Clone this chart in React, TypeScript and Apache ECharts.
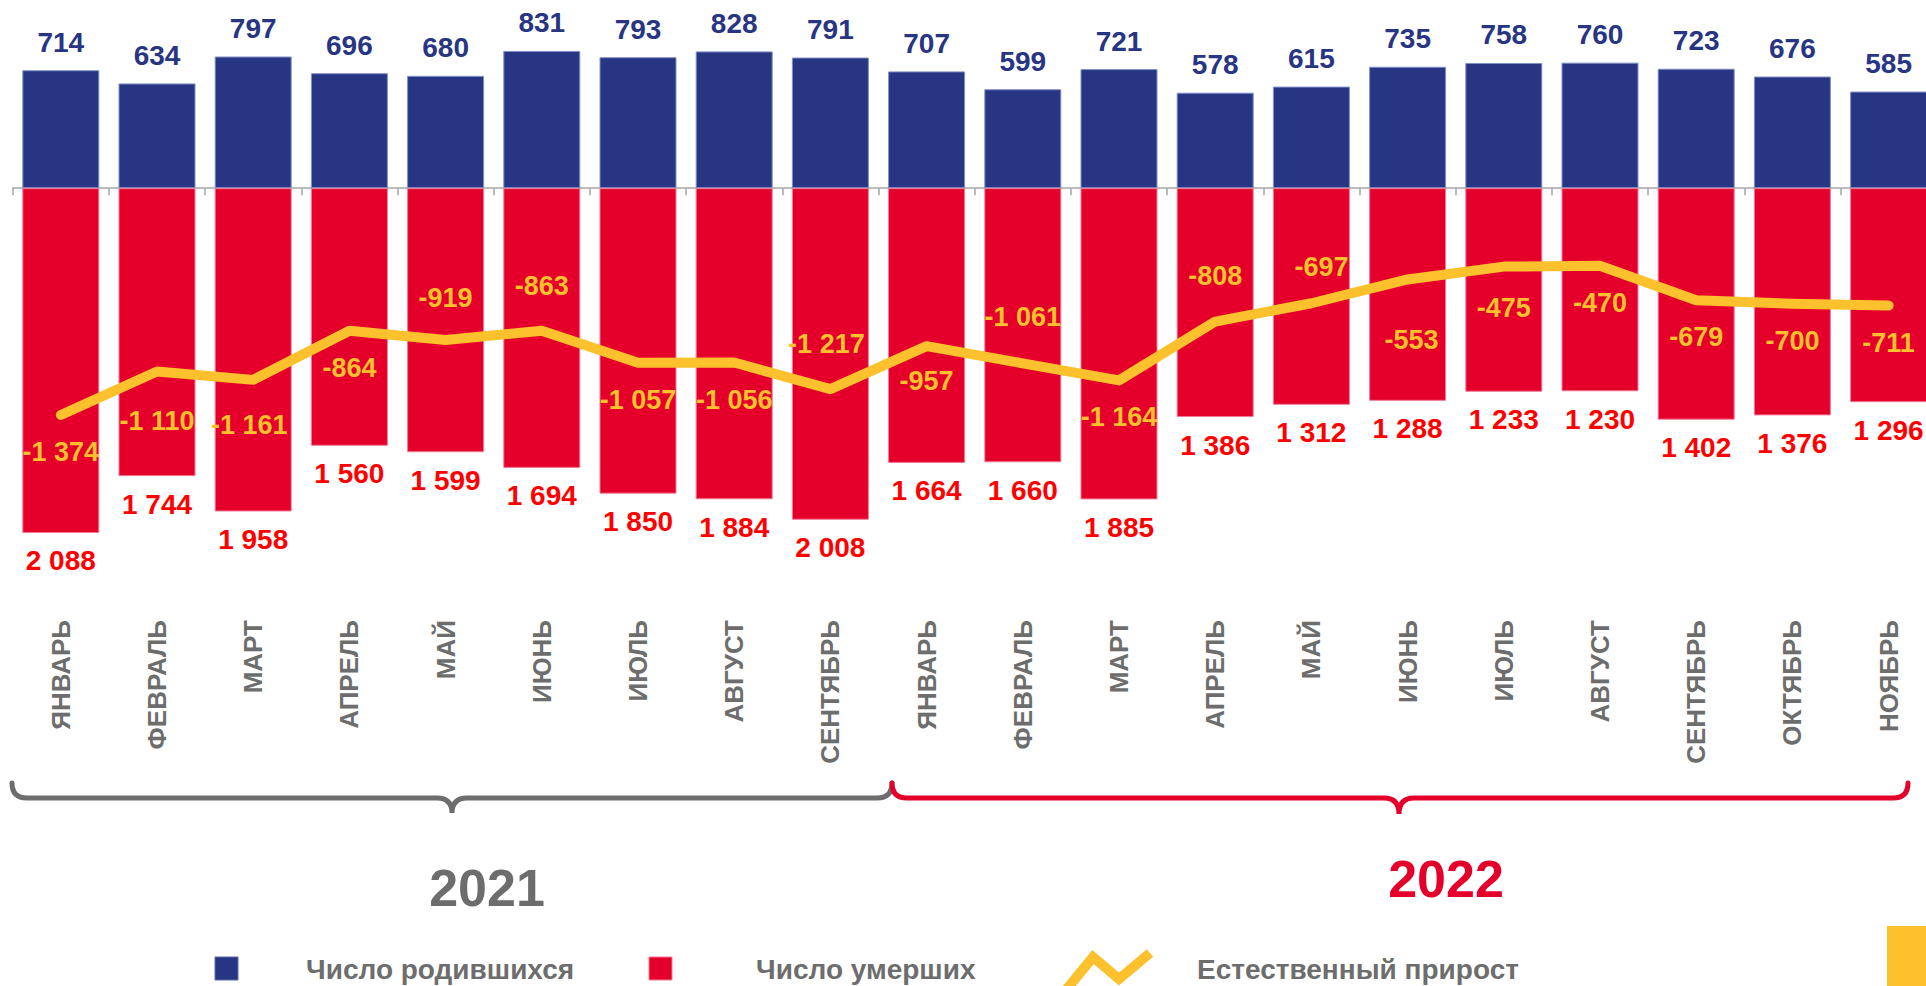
import React, { useEffect, useRef } from "react";
import * as echarts from "echarts";

// ---------- data ----------
const months = [
  "ЯНВАРЬ", "ФЕВРАЛЬ", "МАРТ", "АПРЕЛЬ", "МАЙ", "ИЮНЬ", "ИЮЛЬ", "АВГУСТ", "СЕНТЯБРЬ",
  "ЯНВАРЬ", "ФЕВРАЛЬ", "МАРТ", "АПРЕЛЬ", "МАЙ", "ИЮНЬ", "ИЮЛЬ", "АВГУСТ", "СЕНТЯБРЬ", "ОКТЯБРЬ", "НОЯБРЬ",
];
const births = [714, 634, 797, 696, 680, 831, 793, 828, 791, 707, 599, 721, 578, 615, 735, 758, 760, 723, 676, 585];
const deaths = [2088, 1744, 1958, 1560, 1599, 1694, 1850, 1884, 2008, 1664, 1660, 1885, 1386, 1312, 1288, 1233, 1230, 1402, 1376, 1296];
const naturalIncrease = [-1374, -1110, -1161, -864, -919, -863, -1057, -1056, -1217, -957, -1061, -1164, -808, -697, -553, -475, -470, -679, -700, -711];
const years = ["2021", "2022"];
const seriesNames = ["Число родившихся", "Число умерших", "Естественный прирост"];

// ---------- label placement (style, px) ----------
const lineLabelDy = [37, 50, 45, 37, -42, -45, 37, 37, -45, 35, -46, 37, -46, -36, 61, 41, 37, 37, 37, 37];
const lineLabelDx = [0, 0, -4, 0, 0, 0, 0, 0, -4, 0, 0, 0, 0, 10, 4, 0, 0, 0, 0, 0];

const BLUE = "#283583";
const RED = "#E4002B";
const YELLOW = "#FDC12E";
const GRAY = "#6d6d6d";
const FONT = "Arial, 'Liberation Sans', sans-serif";

const fmt = (v: number) => {
  const s = Math.abs(v).toString().replace(/\B(?=(\d{3})+(?!\d))/g, " ");
  return (v < 0 ? "-" : "") + s;
};

const braceGray =
  "M12 783 Q12 798 27 798 L437 798 Q452 798 452 813 Q452 798 467 798 L877 798 Q892 798 892 783";
const braceRed =
  "M892 783 Q892 798 907 798 L1384 798 Q1399 798 1399 814 Q1399 798 1414 798 L1893 798 Q1908 798 1908 783";
echarts.graphic.registerShape("braceGray", echarts.graphic.extendPath(braceGray, {}));
echarts.graphic.registerShape("braceRed", echarts.graphic.extendPath(braceRed, {}));

export default function App() {
  const ref = useRef<HTMLDivElement>(null);

  useEffect(() => {
    if (!ref.current) return;
    const chart = echarts.init(ref.current, null, { renderer: "svg" });

    const option: any = {
      animation: false,
      backgroundColor: "#ffffff",
      textStyle: { fontFamily: FONT },
      grid: {
        left: 12.7,
        top: 23,
        width: 1924,
        height: 578,
        containLabel: false,
        outerBoundsMode: "none",
      },
      xAxis: [
        {
          type: "category",
          data: months,
          position: "bottom",
          boundaryGap: true,
          axisLine: { show: true, onZero: true, lineStyle: { color: "#a6a6a6", width: 1.5 } },
          axisTick: { show: true, length: 7, interval: 0, lineStyle: { color: "#a6a6a6", width: 1.5 } },
          axisLabel: { show: false },
          splitLine: { show: false },
        },
        {
          type: "category",
          data: months,
          position: "bottom",
          boundaryGap: true,
          axisLine: { show: false, onZero: false },
          axisTick: { show: false },
          axisLabel: {
            show: true,
            interval: 0,
            rotate: 90,
            margin: 19,
            fontSize: 26,
            fontWeight: "bold",
            color: GRAY,
            fontFamily: FONT,
          },
          splitLine: { show: false },
        },
      ],
      yAxis: { type: "value", min: -2500, max: 1000, show: false },
      series: [
        {
          name: seriesNames[0],
          type: "bar",
          stack: "total",
          xAxisIndex: 0,
          barWidth: 77,
          data: births,
          itemStyle: { color: BLUE, borderColor: "#8390c6", borderWidth: 1 },
          label: {
            show: true,
            position: "top",
            distance: 14,
            color: BLUE,
            fontSize: 28,
            fontWeight: "bold",
            fontFamily: FONT,
          },
          z: 2,
        },
        {
          name: seriesNames[1],
          type: "bar",
          stack: "total",
          xAxisIndex: 0,
          barWidth: 77,
          data: deaths.map((v) => -v),
          itemStyle: { color: RED, borderColor: "#f27a95", borderWidth: 1 },
          label: {
            show: true,
            position: "bottom",
            distance: 14,
            color: "#FF0000",
            fontSize: 28,
            fontWeight: "bold",
            fontFamily: FONT,
            formatter: (p: any) => fmt(Math.abs(p.value)),
          },
          z: 2,
        },
        {
          name: seriesNames[2],
          type: "line",
          xAxisIndex: 0,
          data: naturalIncrease.map((v, i) => ({
            value: v,
            label: { offset: [lineLabelDx[i], lineLabelDy[i]] },
          })),
          symbol: "circle",
          symbolSize: 2,
          itemStyle: { color: YELLOW },
          lineStyle: { color: YELLOW, width: 10, cap: "round", join: "round" },
          label: {
            show: true,
            position: "inside",
            color: YELLOW,
            fontSize: 27,
            fontWeight: "bold",
            fontFamily: FONT,
            formatter: (p: any) => fmt(p.value),
          },
          z: 5,
        },
      ],
      graphic: [
        { type: "braceGray", x: 0, y: 0, style: { fill: null, stroke: GRAY, lineWidth: 5, lineCap: "round" } },
        { type: "braceRed", x: 0, y: 0, style: { fill: null, stroke: RED, lineWidth: 5, lineCap: "round" } },
        {
          type: "text",
          x: 487,
          y: 888,
          style: {
            text: years[0],
            fill: GRAY,
            font: `bold 52px ${FONT}`,
            textAlign: "center",
            textVerticalAlign: "middle",
          },
        },
        {
          type: "text",
          x: 1446,
          y: 879,
          style: {
            text: years[1],
            fill: RED,
            font: `bold 52px ${FONT}`,
            textAlign: "center",
            textVerticalAlign: "middle",
          },
        },
        // legend
        {
          type: "rect",
          shape: { x: 215, y: 957, width: 23, height: 23 },
          style: { fill: BLUE, stroke: "#5a6db0", lineWidth: 1 },
        },
        {
          type: "text",
          x: 306,
          y: 969.5,
          style: {
            text: seriesNames[0],
            fill: GRAY,
            font: `bold 28px ${FONT}`,
            textAlign: "left",
            textVerticalAlign: "middle",
          },
        },
        {
          type: "rect",
          shape: { x: 649, y: 957, width: 23, height: 23 },
          style: { fill: RED, stroke: "#f27a95", lineWidth: 1 },
        },
        {
          type: "text",
          x: 756,
          y: 969.5,
          style: {
            text: seriesNames[1],
            fill: GRAY,
            font: `bold 28px ${FONT}`,
            textAlign: "left",
            textVerticalAlign: "middle",
          },
        },
        {
          type: "polyline",
          shape: { points: [[1066, 990], [1093, 957], [1119, 979], [1150, 953]] },
          style: { stroke: YELLOW, lineWidth: 10, fill: null },
        },
        {
          type: "text",
          x: 1197,
          y: 969.5,
          style: {
            text: seriesNames[2],
            fill: GRAY,
            font: `bold 28px ${FONT}`,
            textAlign: "left",
            textVerticalAlign: "middle",
          },
        },
        {
          type: "rect",
          shape: { x: 1887, y: 926, width: 40, height: 60 },
          style: { fill: YELLOW },
        },
      ],
    };

    chart.setOption(option);
    return () => chart.dispose();
  }, []);

  return (
    <div
      ref={ref}
      style={{ position: "absolute", left: 0, top: 0, width: 1926, height: 986, overflow: "hidden" }}
    />
  );
}
